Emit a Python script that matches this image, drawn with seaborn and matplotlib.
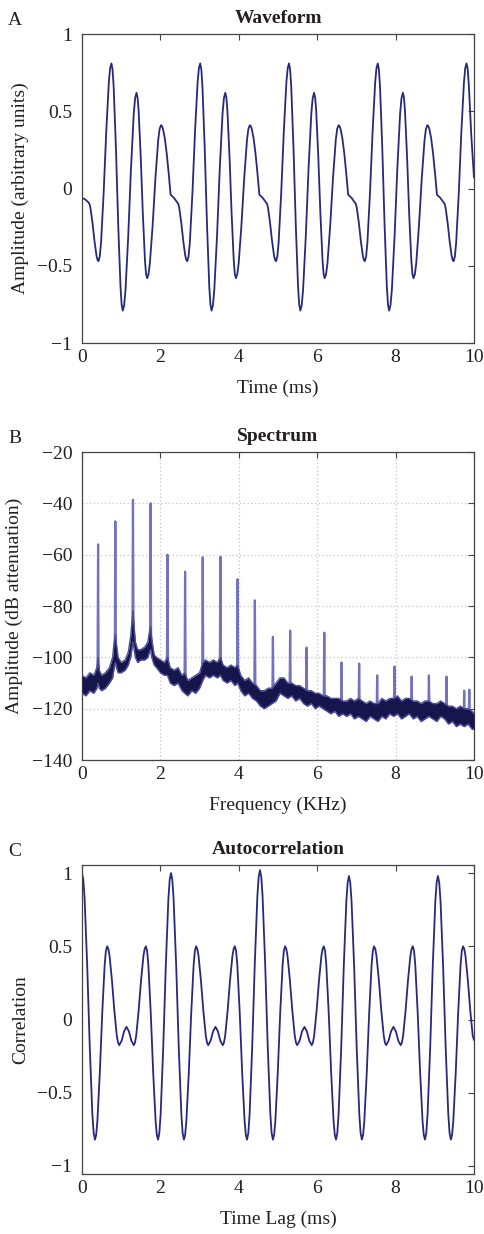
import numpy as np
import pandas as pd
import matplotlib
matplotlib.use("Agg")
import matplotlib.pyplot as plt
import seaborn as sns

# ---------------- data ----------------
# Panel A: waveform (time in ms, amplitude)
wave_t = [
    0.0, 0.08, 0.165, 0.1905, 0.216, 0.267, 0.318, 0.369, 0.3945, 0.42, 0.453, 0.486, 0.552, 0.618, 0.684, 0.717, 0.75,
    0.779, 0.808, 0.866, 0.924, 0.982, 1.011, 1.04, 1.075, 1.11, 1.18, 1.25, 1.32, 1.355, 1.39, 1.417, 1.444, 1.498,
    1.552, 1.606, 1.633, 1.66, 1.6955, 1.731, 1.802, 1.873, 1.944, 1.9795, 2.015, 2.0395, 2.064, 2.113, 2.162, 2.211,
    2.26, 2.345, 2.43, 2.4555, 2.481, 2.532, 2.583, 2.634, 2.6595, 2.685, 2.718, 2.751, 2.817, 2.883, 2.949, 2.982, 3.015,
    3.044, 3.073, 3.131, 3.189, 3.247, 3.276, 3.305, 3.34, 3.375, 3.445, 3.515, 3.585, 3.62, 3.655, 3.682, 3.709, 3.763,
    3.817, 3.871, 3.898, 3.925, 3.9605, 3.996, 4.067, 4.138, 4.209, 4.2445, 4.28, 4.3045, 4.329, 4.378, 4.427, 4.476,
    4.525, 4.61, 4.695, 4.7205, 4.746, 4.797, 4.848, 4.899, 4.9245, 4.95, 4.983, 5.016, 5.082, 5.148, 5.214, 5.247, 5.28,
    5.309, 5.338, 5.396, 5.454, 5.512, 5.541, 5.57, 5.605, 5.64, 5.71, 5.78, 5.85, 5.885, 5.92, 5.947, 5.974, 6.028,
    6.082, 6.136, 6.163, 6.19, 6.2255, 6.261, 6.332, 6.403, 6.474, 6.5095, 6.545, 6.5695, 6.594, 6.643, 6.692, 6.741,
    6.79, 6.875, 6.96, 6.9855, 7.011, 7.062, 7.113, 7.164, 7.1895, 7.215, 7.248, 7.281, 7.347, 7.413, 7.479, 7.512, 7.545,
    7.574, 7.603, 7.661, 7.719, 7.777, 7.806, 7.835, 7.87, 7.905, 7.975, 8.045, 8.115, 8.15, 8.185, 8.212, 8.239, 8.293,
    8.347, 8.401, 8.428, 8.455, 8.4905, 8.526, 8.597, 8.668, 8.739, 8.7745, 8.81, 8.8345, 8.859, 8.908, 8.957, 9.006,
    9.055, 9.14, 9.225, 9.2505, 9.276, 9.327, 9.378, 9.429, 9.4545, 9.48, 9.513, 9.546, 9.612, 9.678, 9.744, 9.777, 9.81,
    9.839, 9.868, 9.93, 10.0,
]
wave_v = [
    -0.06, -0.07, -0.09, -0.099, -0.126, -0.221, -0.339, -0.434, -0.461, -0.47, -0.439, -0.348, -0.028, 0.368, 0.688, 0.779, 0.81,
    0.771, 0.657, 0.257, -0.237, -0.637, -0.751, -0.79, -0.755, -0.655, -0.303, 0.133, 0.485, 0.585, 0.62, 0.591, 0.505, 0.205,
    -0.165, -0.465, -0.551, -0.58, -0.556, -0.485, -0.238, 0.068, 0.315, 0.386, 0.41, 0.404, 0.388, 0.324, 0.225, 0.099,
    -0.04, -0.06, -0.09, -0.099, -0.126, -0.221, -0.339, -0.434, -0.461, -0.47, -0.439, -0.348, -0.028, 0.368, 0.688, 0.779, 0.81,
    0.771, 0.657, 0.257, -0.237, -0.637, -0.751, -0.79, -0.755, -0.655, -0.303, 0.133, 0.485, 0.585, 0.62, 0.591, 0.505, 0.205,
    -0.165, -0.465, -0.551, -0.58, -0.556, -0.485, -0.238, 0.068, 0.315, 0.386, 0.41, 0.404, 0.388, 0.324, 0.225, 0.099,
    -0.04, -0.06, -0.09, -0.099, -0.126, -0.221, -0.339, -0.434, -0.461, -0.47, -0.439, -0.348, -0.028, 0.368, 0.688, 0.779, 0.81,
    0.771, 0.657, 0.257, -0.237, -0.637, -0.751, -0.79, -0.755, -0.655, -0.303, 0.133, 0.485, 0.585, 0.62, 0.591, 0.505, 0.205,
    -0.165, -0.465, -0.551, -0.58, -0.556, -0.485, -0.238, 0.068, 0.315, 0.386, 0.41, 0.404, 0.388, 0.324, 0.225, 0.099,
    -0.04, -0.06, -0.09, -0.099, -0.126, -0.221, -0.339, -0.434, -0.461, -0.47, -0.439, -0.348, -0.028, 0.368, 0.688, 0.779, 0.81,
    0.771, 0.657, 0.257, -0.237, -0.637, -0.751, -0.79, -0.755, -0.655, -0.303, 0.133, 0.485, 0.585, 0.62, 0.591, 0.505, 0.205,
    -0.165, -0.465, -0.551, -0.58, -0.556, -0.485, -0.238, 0.068, 0.315, 0.386, 0.41, 0.404, 0.388, 0.324, 0.225, 0.099,
    -0.04, -0.06, -0.09, -0.099, -0.126, -0.221, -0.339, -0.434, -0.461, -0.47, -0.439, -0.348, -0.028, 0.368, 0.688, 0.779, 0.81,
    0.775, 0.67, 0.35, 0.07,
]

# Panel B: spectrum (frequency in kHz, dB) -- noise floor band and harmonic peaks
spec_f = [
    0.0, 0.1, 0.2, 0.3, 0.38, 0.41, 0.44, 0.5, 0.6, 0.7, 0.78, 0.82, 0.85, 0.88, 0.92, 1.0, 1.1, 1.18, 1.24, 1.28, 1.3,
    1.32, 1.36, 1.42, 1.5, 1.6, 1.68, 1.72, 1.75, 1.78, 1.84, 1.9, 2.0, 2.1, 2.18, 2.25, 2.35, 2.45, 2.55, 2.62, 2.7,
    2.8, 2.9, 3.0, 3.08, 3.15, 3.25, 3.35, 3.45, 3.53, 3.6, 3.7, 3.8, 3.9, 3.97, 4.05, 4.15, 4.25, 4.35, 4.45, 4.55,
    4.65, 4.75, 4.85, 4.95, 5.05, 5.15, 5.25, 5.35, 5.45, 5.55, 5.65, 5.75, 5.85, 5.95, 6.05, 6.15, 6.25, 6.35, 6.45, 6.55,
    6.65, 6.75, 6.85, 6.95, 7.05, 7.15, 7.25, 7.35, 7.45, 7.55, 7.65, 7.75, 7.85, 7.95, 8.05, 8.15, 8.25, 8.35, 8.45, 8.55,
    8.65, 8.75, 8.85, 8.95, 9.05, 9.15, 9.25, 9.35, 9.45, 9.55, 9.65, 9.75, 9.85, 9.95, 10.0,
]
spec_lo = [
    -114, -115, -113, -114, -112, -110, -112, -113, -112, -110, -108, -104, -102, -104, -106, -106, -105, -103, -100, -96, -94,
    -96, -100, -102, -101, -101, -100, -98, -97, -100, -103, -104, -106, -107, -107, -110, -111, -110, -113, -114, -115,
    -113, -114, -112, -109, -107, -108, -107, -108, -107, -109, -110, -109, -111, -110, -113, -115, -114, -116, -117, -119,
    -120, -119, -118, -117, -114, -115, -116, -115, -117, -116, -118, -119, -118, -120, -119, -120, -121, -122, -121, -123,
    -122, -123, -122, -124, -123, -124, -125, -123, -124, -125, -123, -124, -122, -123, -122, -124, -123, -122, -124, -123,
    -125, -124, -123, -124, -125, -123, -124, -126, -125, -127, -126, -127, -126, -128, -128,
]
spec_hi = [
    -107, -108, -106, -107, -104, -100, -105, -107, -106, -104, -100, -94, -91, -95, -100, -102, -101, -98, -92, -85, -82,
    -86, -94, -97, -97, -96, -94, -90, -88, -93, -99, -100, -101, -102, -100, -104, -105, -104, -107, -106, -109,
    -108, -107, -106, -102, -101, -102, -101, -102, -100, -103, -104, -103, -104, -103, -107, -109, -108, -110, -111, -113,
    -113, -112, -112, -110, -108, -108, -110, -110, -111, -111, -112, -113, -113, -114, -114, -115, -115, -116, -116, -116,
    -117, -117, -116, -117, -116, -117, -118, -117, -118, -118, -116, -117, -116, -116, -115, -117, -116, -116, -117, -117,
    -118, -117, -117, -118, -118, -117, -118, -119, -119, -120, -119, -120, -120, -121, -122,
]
peak_f = [0.41, 0.85, 1.30, 1.75, 2.18, 2.63, 3.08, 3.53, 3.97, 4.41, 4.87, 5.31, 5.73, 6.18, 6.62, 7.07,
          7.53, 7.97, 8.41, 8.85, 9.30, 9.75, 9.88]
peak_db = [-56, -47, -38.6, -40, -60, -66.6, -61, -60.8, -69.5, -77.8, -92, -89.6, -96.2, -90.4, -102, -102.4,
           -107, -103.6, -107.5, -107, -107.5, -113, -112.6]
peak_base = [-106, -98, -90, -95, -104, -110, -106, -104, -107, -113, -115, -113, -116, -118, -120, -120,
             -121, -120, -120, -121, -121, -123, -123]

# Panel C: autocorrelation (lag in ms, correlation)
ac_t = [
    0.0, 0.033, 0.066, 0.132, 0.198, 0.264, 0.297, 0.33, 0.361, 0.392, 0.454, 0.516, 0.578, 0.609, 0.64, 0.671, 0.702, 0.764,
    0.826, 0.888, 0.919, 0.95, 1.012, 1.073, 1.135, 1.197, 1.258, 1.32, 1.351, 1.382, 1.444, 1.506, 1.568, 1.599, 1.63, 1.661,
    1.692, 1.754, 1.816, 1.878, 1.909, 1.94, 1.973, 2.006, 2.072, 2.138, 2.204, 2.237,
    2.27, 2.303, 2.336, 2.402, 2.468, 2.534, 2.567, 2.6, 2.631, 2.662, 2.724, 2.786, 2.848, 2.879, 2.91, 2.941, 2.972, 3.034,
    3.096, 3.158, 3.189, 3.22, 3.282, 3.343, 3.405, 3.467, 3.528, 3.59, 3.621, 3.652, 3.714, 3.776, 3.838, 3.869, 3.9, 3.931,
    3.962, 4.024, 4.086, 4.148, 4.179, 4.21, 4.243, 4.276, 4.342, 4.408, 4.474, 4.507,
    4.54, 4.573, 4.606, 4.672, 4.738, 4.804, 4.837, 4.87, 4.901, 4.932, 4.994, 5.056, 5.118, 5.149, 5.18, 5.211, 5.242, 5.304,
    5.366, 5.428, 5.459, 5.49, 5.552, 5.613, 5.675, 5.737, 5.798, 5.86, 5.891, 5.922, 5.984, 6.046, 6.108, 6.139, 6.17, 6.201,
    6.232, 6.294, 6.356, 6.418, 6.449, 6.48, 6.513, 6.546, 6.612, 6.678, 6.744, 6.777,
    6.81, 6.843, 6.876, 6.942, 7.008, 7.074, 7.107, 7.14, 7.171, 7.202, 7.264, 7.326, 7.388, 7.419, 7.45, 7.481, 7.512, 7.574,
    7.636, 7.698, 7.729, 7.76, 7.822, 7.883, 7.945, 8.007, 8.068, 8.13, 8.161, 8.192, 8.254, 8.316, 8.378, 8.409, 8.44, 8.471,
    8.502, 8.564, 8.626, 8.688, 8.719, 8.75, 8.783, 8.816, 8.882, 8.948, 9.014, 9.047,
    9.08, 9.113, 9.146, 9.212, 9.278, 9.344, 9.377, 9.41, 9.441, 9.472, 9.534, 9.596, 9.658, 9.689, 9.72, 9.751, 9.782, 9.844,
    9.906, 9.968, 10.0,
]
ac_v = [
    1.0, 0.955, 0.826, 0.371, -0.191, -0.646, -0.775, -0.82, -0.788, -0.694, -0.364, 0.044, 0.374, 0.468, 0.5, 0.483, 0.436, 0.267,
    0.058, -0.111, -0.158, -0.175, -0.144, -0.081, -0.05, -0.081, -0.144, -0.175, -0.158, -0.111, 0.058, 0.267, 0.436, 0.483, 0.5, 0.468,
    0.374, 0.044, -0.364, -0.694, -0.788, -0.82, -0.775, -0.646, -0.191, 0.371, 0.826, 0.955,
    1.0, 0.955, 0.826, 0.371, -0.191, -0.646, -0.775, -0.82, -0.788, -0.694, -0.364, 0.044, 0.374, 0.468, 0.5, 0.483, 0.436, 0.267,
    0.058, -0.111, -0.158, -0.175, -0.144, -0.081, -0.05, -0.081, -0.144, -0.175, -0.158, -0.111, 0.058, 0.267, 0.436, 0.483, 0.5, 0.468,
    0.374, 0.044, -0.364, -0.694, -0.788, -0.82, -0.775, -0.644, -0.184, 0.384, 0.844, 0.975,
    1.02, 0.975, 0.844, 0.384, -0.184, -0.644, -0.775, -0.82, -0.788, -0.694, -0.364, 0.044, 0.374, 0.468, 0.5, 0.483, 0.436, 0.267,
    0.058, -0.111, -0.158, -0.175, -0.144, -0.081, -0.05, -0.081, -0.144, -0.175, -0.158, -0.111, 0.058, 0.267, 0.436, 0.483, 0.5, 0.468,
    0.374, 0.044, -0.364, -0.694, -0.788, -0.82, -0.775, -0.646, -0.195, 0.365, 0.81, 0.935,
    0.98, 0.935, 0.81, 0.365, -0.195, -0.646, -0.775, -0.82, -0.788, -0.694, -0.364, 0.044, 0.374, 0.468, 0.5, 0.483, 0.436, 0.267,
    0.058, -0.111, -0.158, -0.175, -0.144, -0.081, -0.05, -0.081, -0.144, -0.175, -0.158, -0.111, 0.058, 0.267, 0.436, 0.483, 0.5, 0.468,
    0.374, 0.044, -0.364, -0.694, -0.788, -0.82, -0.775, -0.646, -0.195, 0.365, 0.81, 0.935,
    0.98, 0.935, 0.81, 0.365, -0.195, -0.646, -0.775, -0.82, -0.788, -0.694, -0.364, 0.044, 0.374, 0.468, 0.5, 0.483, 0.436, 0.267,
    0.058, -0.111, -0.14,
]

time_ticks = [0, 2, 4, 6, 8, 10]
time_ticklabels = ["0", "2", "4", "6", "8", "10"]
wave_yticks = [-1, -0.5, 0, 0.5, 1]
wave_yticklabels = ["\u22121", "\u22120.5", "0", "0.5", "1"]
spec_yticks = [-140, -120, -100, -80, -60, -40, -20]
spec_yticklabels = ["\u2212140", "\u2212120", "\u2212100", "\u221280", "\u221260", "\u221240", "\u221220"]

titles = ["Waveform", "Spectrum", "Autocorrelation"]
panel_letters = ["A", "B", "C"]
xlabels = ["Time (ms)", "Frequency (KHz)", "Time Lag (ms)"]
ylabels = ["Amplitude (arbitrary units)", "Amplitude (dB attenuation)", "Correlation"]

# ---------------- style ----------------
sns.set_style("white")
plt.rcParams["font.family"] = ["Liberation Serif", "DejaVu Serif"]
TEXT = "#231f20"
FRAME = "#444444"
LINE = "#28287c"
FS = 14

fig = plt.figure(figsize=(4.85, 12.34), dpi=100)
axA = fig.add_axes([0.1691, 0.7220, 0.8082, 0.2504])
axB = fig.add_axes([0.1691, 0.3841, 0.8082, 0.2496])
axC = fig.add_axes([0.1691, 0.0486, 0.8082, 0.2504])
axes = [axA, axB, axC]

# Panel A
sns.lineplot(x=wave_t, y=wave_v, ax=axA, color=LINE, lw=1.3, sort=False, estimator=None)
axA.set_ylim(-1, 1)
axA.set_yticks(wave_yticks)
axA.set_yticklabels(wave_yticklabels)

# Panel B
rows = []
for k, (f, top, base) in enumerate(zip(peak_f, peak_db, peak_base)):
    rows += [(k, f - 0.014, base), (k, f, top), (k, f + 0.014, base)]
df_spk = pd.DataFrame(rows, columns=["k", "f", "db"])
axB.grid(True, linestyle=(0, (1, 2)), color="#c4c4c4", lw=0.9)
axB.set_axisbelow(True)
sns.lineplot(data=df_spk, x="f", y="db", units="k", estimator=None, sort=False,
             color="#7272c0", lw=1.6, ax=axB, zorder=2)
axB.fill_between(spec_f, spec_lo, spec_hi, color="#16164c", lw=0, zorder=3)
sns.lineplot(x=spec_f, y=spec_hi, ax=axB, color="#4e4e9c", lw=1.0, sort=False, estimator=None, zorder=3)
sns.lineplot(x=spec_f, y=spec_lo, ax=axB, color="#4e4e9c", lw=1.0, sort=False, estimator=None, zorder=3)
axB.set_ylim(-140, -20)
axB.set_yticks(spec_yticks)
axB.set_yticklabels(spec_yticklabels)

# Panel C
sns.lineplot(x=ac_t, y=ac_v, ax=axC, color=LINE, lw=1.3, sort=False, estimator=None)
axC.set_ylim(-1.055, 1.055)
axC.set_yticks(wave_yticks)
axC.set_yticklabels(wave_yticklabels)

for ax, title, letter, xl, yl in zip(axes, titles, panel_letters, xlabels, ylabels):
    ax.set_xlim(0, 10)
    ax.set_xticks(time_ticks)
    ax.set_xticklabels(time_ticklabels)
    ax.tick_params(axis="both", direction="in", length=4, width=0.8, color=FRAME,
                   top=True, right=True, labelsize=FS, labelcolor=TEXT)
    ax.tick_params(axis="x", pad=4)
    ax.tick_params(axis="y", pad=7)
    for sp in ax.spines.values():
        sp.set_visible(True)
        sp.set_color(FRAME)
        sp.set_linewidth(0.9)
    ax.set_title(title, fontsize=FS, fontweight="bold", color=TEXT, pad=8)
    ax.set_xlabel(xl, fontsize=FS, color=TEXT, labelpad=10)
    ax.set_ylabel(yl, fontsize=FS, color=TEXT, labelpad=6)
    bb = ax.get_position()
    fig.text(0.017, bb.y1 + 0.0075, letter, fontsize=FS, color=TEXT, ha="left", va="baseline")

fig.savefig("out.png", dpi=100)
